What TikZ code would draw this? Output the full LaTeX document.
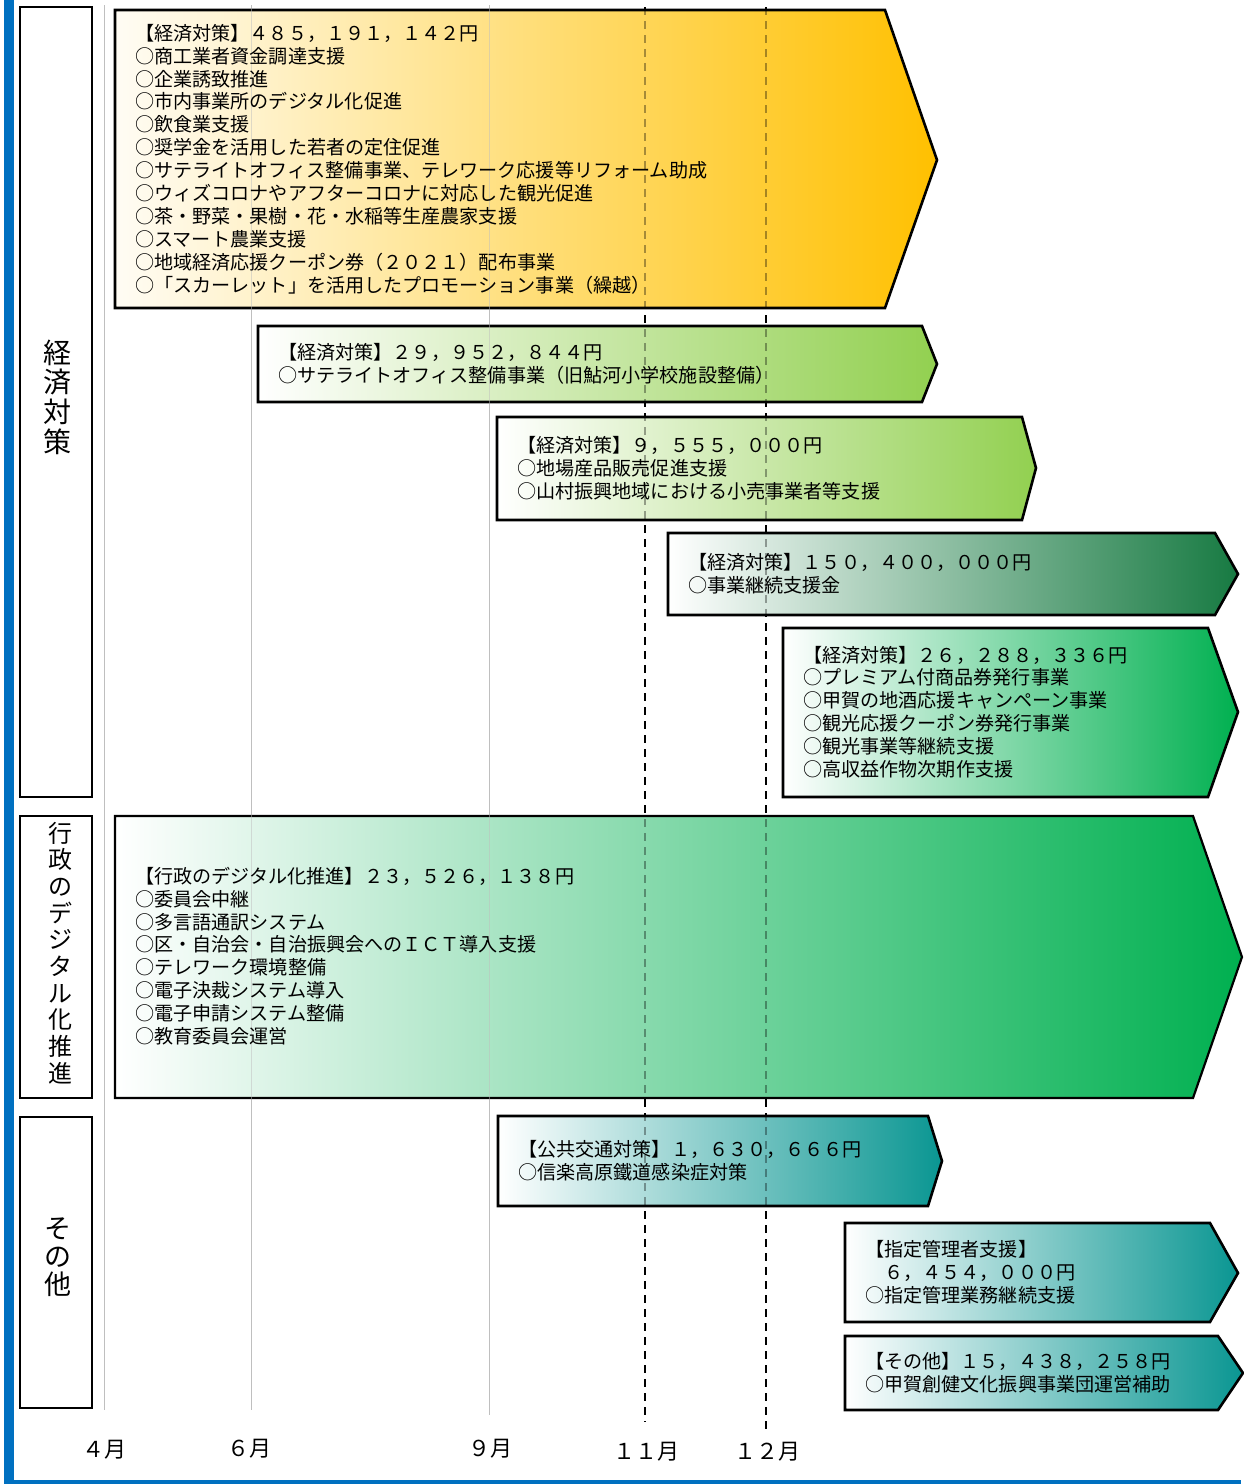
\documentclass[tikz,border=0pt]{standalone}
\usepackage{fontspec}
\setmainfont{Noto Sans CJK JP}
\definecolor{framblue}{HTML}{0070C0}
\definecolor{ylw}{HTML}{FFC000}
\definecolor{lgreen}{HTML}{92D050}
\definecolor{dgreen}{HTML}{177A42}
\definecolor{mgreen}{HTML}{00B050}
\definecolor{tealc}{HTML}{0A9692}
\begin{document}
\begin{tikzpicture}[x=1pt,y=-1pt,
  arrowbox/.style={draw=black, line width=2.6pt, line join=miter},
  catbox/.style={draw=black, line width=2pt},
  bodytext/.style={anchor=west, align=left, font=\fontsize{19.1}{22.9}\selectfont, inner sep=0pt},
  cattext/.style={align=center, inner sep=0pt},
  monthlbl/.style={font=\fontsize{22}{26}\selectfont, inner sep=0pt},
  faint/.style={draw=black!25, line width=0.9pt},
  monthdash/.style={draw=black, line width=2pt, dash pattern=on 8pt off 6pt},
]
\useasboundingbox (0,0) rectangle (1244,1484);
\fill[white] (0,0) rectangle (1244,1484);
% blue frame
\fill[framblue] (4,0) rectangle (14,1484);
\fill[framblue] (4,1480) rectangle (1241,1484);

% guide coordinates
\coordinate (g4t) at (104,5);   \coordinate (g4b) at (104,1410);
\coordinate (g6t) at (251,5);   \coordinate (g6b) at (251,1410);
\coordinate (g9t) at (489,5);   \coordinate (g9b) at (489,1415);
\coordinate (d11t) at (645,7);  \coordinate (d11b) at (645,1422);
\coordinate (d12t) at (766,7);  \coordinate (d12b) at (766,1432);

% guide lines (under)
\draw[faint] (g4t) -- (g4b);
\draw[faint] (g6t) -- (g6b);
\draw[faint] (g9t) -- (g9b);
\draw[monthdash] (d11t) -- (d11b);
\draw[monthdash] (d12t) -- (d12b);

% category boxes
\draw[catbox] (20,7) rectangle (92,797);
\draw[catbox] (20,816) rectangle (92,1098);
\draw[catbox] (20,1117) rectangle (92,1408);
\node[cattext, font=\fontsize{28}{29.7}\selectfont] (c1) at (57,397) {経\\済\\対\\策};
\node[cattext, font=\fontsize{24}{26.7}\selectfont] (c2) at (60,953) {行\\政\\の\\デ\\ジ\\タ\\ル\\化\\推\\進};
\node[cattext, font=\fontsize{27}{28}\selectfont] (c3) at (58,1257) {そ\\の\\他};

% arrows
\path[arrowbox, left color=ylw!4, middle color=ylw!27, right color=ylw]
  (115,10) -- (885,10) -- (937,160) -- (885,308) -- (115,308) -- cycle;
\path[arrowbox, left color=white, middle color=lgreen!40, right color=lgreen]
  (258,326) -- (922,326) -- (937,364) -- (922,402) -- (258,402) -- cycle;
\path[arrowbox, left color=white, middle color=lgreen!40, right color=lgreen]
  (497,417) -- (1022,417) -- (1036,468) -- (1022,520) -- (497,520) -- cycle;
\path[arrowbox, left color=white, middle color=dgreen!40, right color=dgreen]
  (668,533) -- (1215,533) -- (1238,574) -- (1215,615) -- (668,615) -- cycle;
\path[arrowbox, left color=white, middle color=mgreen!45, right color=mgreen]
  (783,628) -- (1208,628) -- (1238,712) -- (1208,797) -- (783,797) -- cycle;
\path[arrowbox, line width=2.2pt, left color=white, middle color=mgreen!38, right color=mgreen]
  (115,816) -- (1193,816) -- (1242,957) -- (1193,1098) -- (115,1098) -- cycle;
\path[arrowbox, left color=white, middle color=tealc!45, right color=tealc]
  (498,1116) -- (928,1116) -- (942,1161) -- (928,1206) -- (498,1206) -- cycle;
\path[arrowbox, left color=white, middle color=tealc!45, right color=tealc]
  (845,1223) -- (1210,1223) -- (1238,1273) -- (1210,1322) -- (845,1322) -- cycle;
\path[arrowbox, left color=white, middle color=tealc!45, right color=tealc]
  (845,1336) -- (1218,1336) -- (1243,1373) -- (1218,1410) -- (845,1410) -- cycle;

% guide lines seen through the arrows
\draw[faint, draw opacity=0.5] (g4t) -- (g4b);
\draw[faint, draw opacity=0.5] (g6t) -- (g6b);
\draw[faint, draw opacity=0.5] (g9t) -- (g9b);
\draw[monthdash, draw opacity=0.35] (d11t) -- (d11b);
\draw[monthdash, draw opacity=0.35] (d12t) -- (d12b);

% texts
\node[bodytext] (t1) at (135,159) {【経済対策】４８５，１９１，１４２円\\
○商工業者資金調達支援\\
○企業誘致推進\\
○市内事業所のデジタル化促進\\
○飲食業支援\\
○奨学金を活用した若者の定住促進\\
○サテライトオフィス整備事業、テレワーク応援等リフォーム助成\\
○ウィズコロナやアフターコロナに対応した観光促進\\
○茶・野菜・果樹・花・水稲等生産農家支援\\
○スマート農業支援\\
○地域経済応援クーポン券（２０２１）配布事業\\
○「スカーレット」を活用したプロモーション事業（繰越）};

\node[bodytext] (t2) at (278,364) {【経済対策】２９，９５２，８４４円\\
○サテライトオフィス整備事業（旧鮎河小学校施設整備）};

\node[bodytext] (t3) at (517,468) {【経済対策】９，５５５，０００円\\
○地場産品販売促進支援\\
○山村振興地域における小売事業者等支援};

\node[bodytext] (t4) at (688,574) {【経済対策】１５０，４００，０００円\\
○事業継続支援金};

\node[bodytext] (t5) at (803,712) {【経済対策】２６，２８８，３３６円\\
○プレミアム付商品券発行事業\\
○甲賀の地酒応援キャンペーン事業\\
○観光応援クーポン券発行事業\\
○観光事業等継続支援\\
○高収益作物次期作支援};

\node[bodytext] (t6) at (135,956) {【行政のデジタル化推進】２３，５２６，１３８円\\
○委員会中継\\
○多言語通訳システム\\
○区・自治会・自治振興会へのＩＣＴ導入支援\\
○テレワーク環境整備\\
○電子決裁システム導入\\
○電子申請システム整備\\
○教育委員会運営};

\node[bodytext] (t7) at (518,1161) {【公共交通対策】１，６３０，６６６円\\
○信楽高原鐵道感染症対策};

\node[bodytext] (t8) at (865,1272) {【指定管理者支援】\\
　６，４５４，０００円\\
○指定管理業務継続支援};

\node[bodytext] (t9) at (865,1373) {【その他】１５，４３８，２５８円\\
○甲賀創健文化振興事業団運営補助};

% month labels
\node[monthlbl] (l4) at (104,1450) {４月};
\node[monthlbl] (l6) at (249,1449) {６月};
\node[monthlbl] (l9) at (490,1449) {９月};
\node[monthlbl] (l11) at (646,1452) {１１月};
\node[monthlbl] (l12) at (767,1452) {１２月};
\end{tikzpicture}
\end{document}
